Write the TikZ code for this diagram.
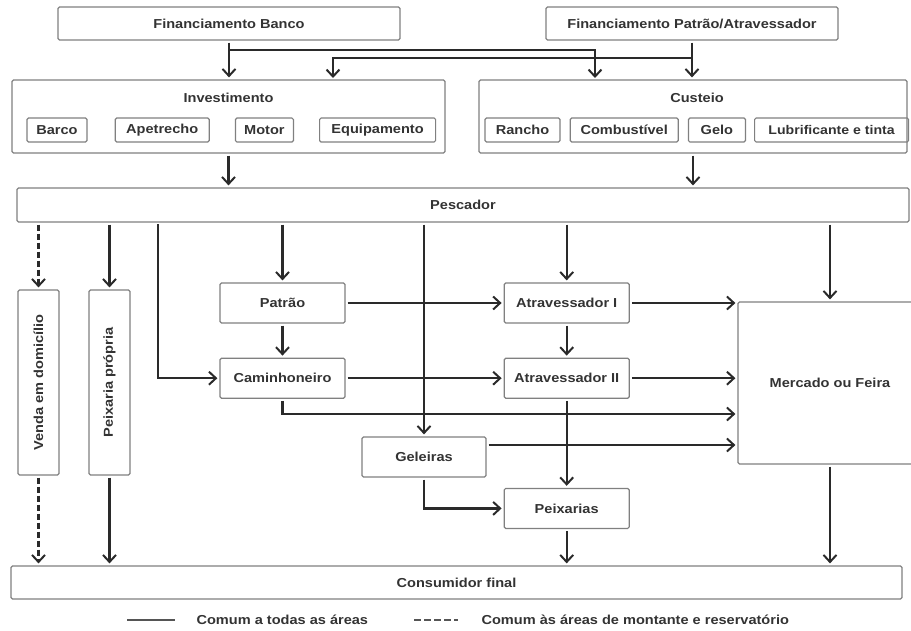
\documentclass[tikz,border=0pt]{standalone}
\usepackage{fontspec}
\setmainfont{Liberation Sans}[FakeStretch=1.12]
\usetikzlibrary{arrows.meta}
\usetikzlibrary{positioning}
\definecolor{boxgray}{HTML}{808080}
\definecolor{txtgray}{HTML}{333333}
\definecolor{linegray}{HTML}{2A2A2A}

\begin{document}
\begin{tikzpicture}[x=1pt, y=-1pt,
    font=\fontsize{13}{15}\selectfont\bfseries,
    box/.style={draw=boxgray, line width=1.2pt, rounded corners=1.5pt, text=txtgray,
        inner sep=0pt, minimum width=125pt, minimum height=40pt},
    item/.style={box, minimum height=24pt},
    link/.style={draw=linegray, line width=2.2pt, shorten <=2pt, shorten >=2pt,
        -{Straight Barb[length=7pt, width=13pt, line width=2pt]}},
    dlink/.style={link, dash pattern=on 6pt off 3pt},
    legline/.style={draw=linegray!80, line width=1.8pt}]
    \useasboundingbox (0,0) rectangle (911,630);

    % financing
    \node [box, minimum width=342pt, minimum height=33pt] (banco) at (229,23.5) {Financiamento Banco};
    \node [box, minimum width=292pt, minimum height=33pt] (finpat) at (692,23.5) {Financiamento Patrão/Atravessador};

    % investimento and custeio
    \node [box, minimum width=433pt, minimum height=73pt] (invest) at (228.5,116.5) {};
    \node [text=txtgray] (investlbl) at (228.5,98) {Investimento};
    \node [item, minimum width=60pt] (barco) at (57,130) {Barco};
    \node [item, minimum width=94pt] (apet) [right=27pt of barco] {Apetrecho};
    \node [item, minimum width=58pt] (motor) [right=25pt of apet] {Motor};
    \node [item, minimum width=116pt] (equip) [right=25pt of motor] {Equipamento};

    \node [box, minimum width=428pt, minimum height=73pt] (custeio) at (693,116.5) {};
    \node [text=txtgray] (custeiolbl) at (697,98) {Custeio};
    \node [item, minimum width=75pt] (rancho) at (522.5,130) {Rancho};
    \node [item, minimum width=108pt] (comb) [right=9pt of rancho] {Combustível};
    \node [item, minimum width=57pt] (gelo) [right=9pt of comb] {Gelo};
    \node [item, minimum width=154pt, font=\fontsize{12.6}{14}\selectfont\bfseries] (lubr) [right=8pt of gelo] {Lubrificante e tinta};

    % pescador
    \node [box, minimum width=892pt, minimum height=34pt] (pesc) at (463,205) {Pescador};

    % chain
    \node [box, minimum width=185pt, minimum height=41pt, rotate=90] (venda) at (38.5,382.5) {Venda em domicílio};
    \node [box, minimum width=185pt, minimum height=41pt, rotate=90] (peixpr) at (109.5,382.5) {Peixaria própria};
    \node [box] (patrao) at (282.5,303) {Patrão};
    \node [box] (camin) [below=34pt of patrao] {Caminhoneiro};
    \node [box] (atr1) [right=158pt of patrao] {Atravessador I};
    \node [box] (atr2) [below=34pt of atr1] {Atravessador II};
    \node [box, minimum width=124pt] (gel) at (424,457) {Geleiras};
    \node [box] (peixs) [below=89pt of atr2] {Peixarias};
    \node [box, minimum width=184pt, minimum height=162pt] (merc) at (830,383) {Mercado ou Feira};
    \node [box, minimum width=891pt, minimum height=33pt] (cons) at (456.5,582.5) {Consumidor final};

    % legend
    \node [text=txtgray, anchor=west] (leg1) at (193,620) {Comum a todas as áreas};
    \node [text=txtgray, anchor=west] (leg2) at (478,620) {Comum às áreas de montante e reservatório};
    \draw [legline] ([xshift=-66pt]leg1.west) -- ([xshift=-18pt]leg1.west);
    \draw [legline, dash pattern=on 7pt off 3pt] ([xshift=-64pt]leg2.west) -- ([xshift=-20pt]leg2.west);

    \coordinate (bsplit) at (229,50);
    \coordinate (psplit) at (692,58);
    \coordinate (custin) at (595,80);
    \coordinate (investin) at (333,80);
    \coordinate (tcam) at (158,222);

    \draw [link] (banco.south) -- (banco.south |- invest.north);
    \draw [link, shorten <=0pt] (bsplit) -| (custin);
    \draw [link] (finpat.south) -- (finpat.south |- custeio.north);
    \draw [link, shorten <=0pt] (psplit) -| (investin);
    \draw [link] (invest.south) -- (invest.south |- pesc.north);
    \draw [link] (custeio.south) -- (custeio.south |- pesc.north);

    \draw [dlink] (pesc.south -| venda) -- (venda);
    \draw [link] (pesc.south -| peixpr) -- (peixpr);
    \draw [link] (tcam) |- (camin);
    \draw [link] (pesc.south -| patrao) -- (patrao);
    \draw [link] (pesc.south -| gel) -- (gel);
    \draw [link] (pesc.south -| atr1) -- (atr1);
    \draw [link] (pesc.south -| merc) -- (merc);

    \draw [link] (patrao) -- (camin);
    \draw [link] (patrao) -- (atr1);
    \draw [link] (camin) -- (atr2);
    \draw [link] (atr1) -- (atr2);
    \draw [link] (atr1) -- (atr1 -| merc.west);
    \draw [link] (atr2) -- (atr2 -| merc.west);
    \draw [link] (camin.south) |- ([yshift=-31pt]merc.west);
    \draw [link] ([yshift=12pt]gel.east) -- ([yshift=12pt]gel.east -| merc.west);
    \draw [link] (gel.south) |- (peixs);
    \draw [link] (atr2) -- (peixs);

    \draw [dlink] (venda) -- (venda |- cons.north);
    \draw [link] (peixpr) -- (peixpr |- cons.north);
    \draw [link] (peixs) -- (peixs |- cons.north);
    \draw [link] (merc) -- (merc |- cons.north);
\end{tikzpicture}
\end{document}
